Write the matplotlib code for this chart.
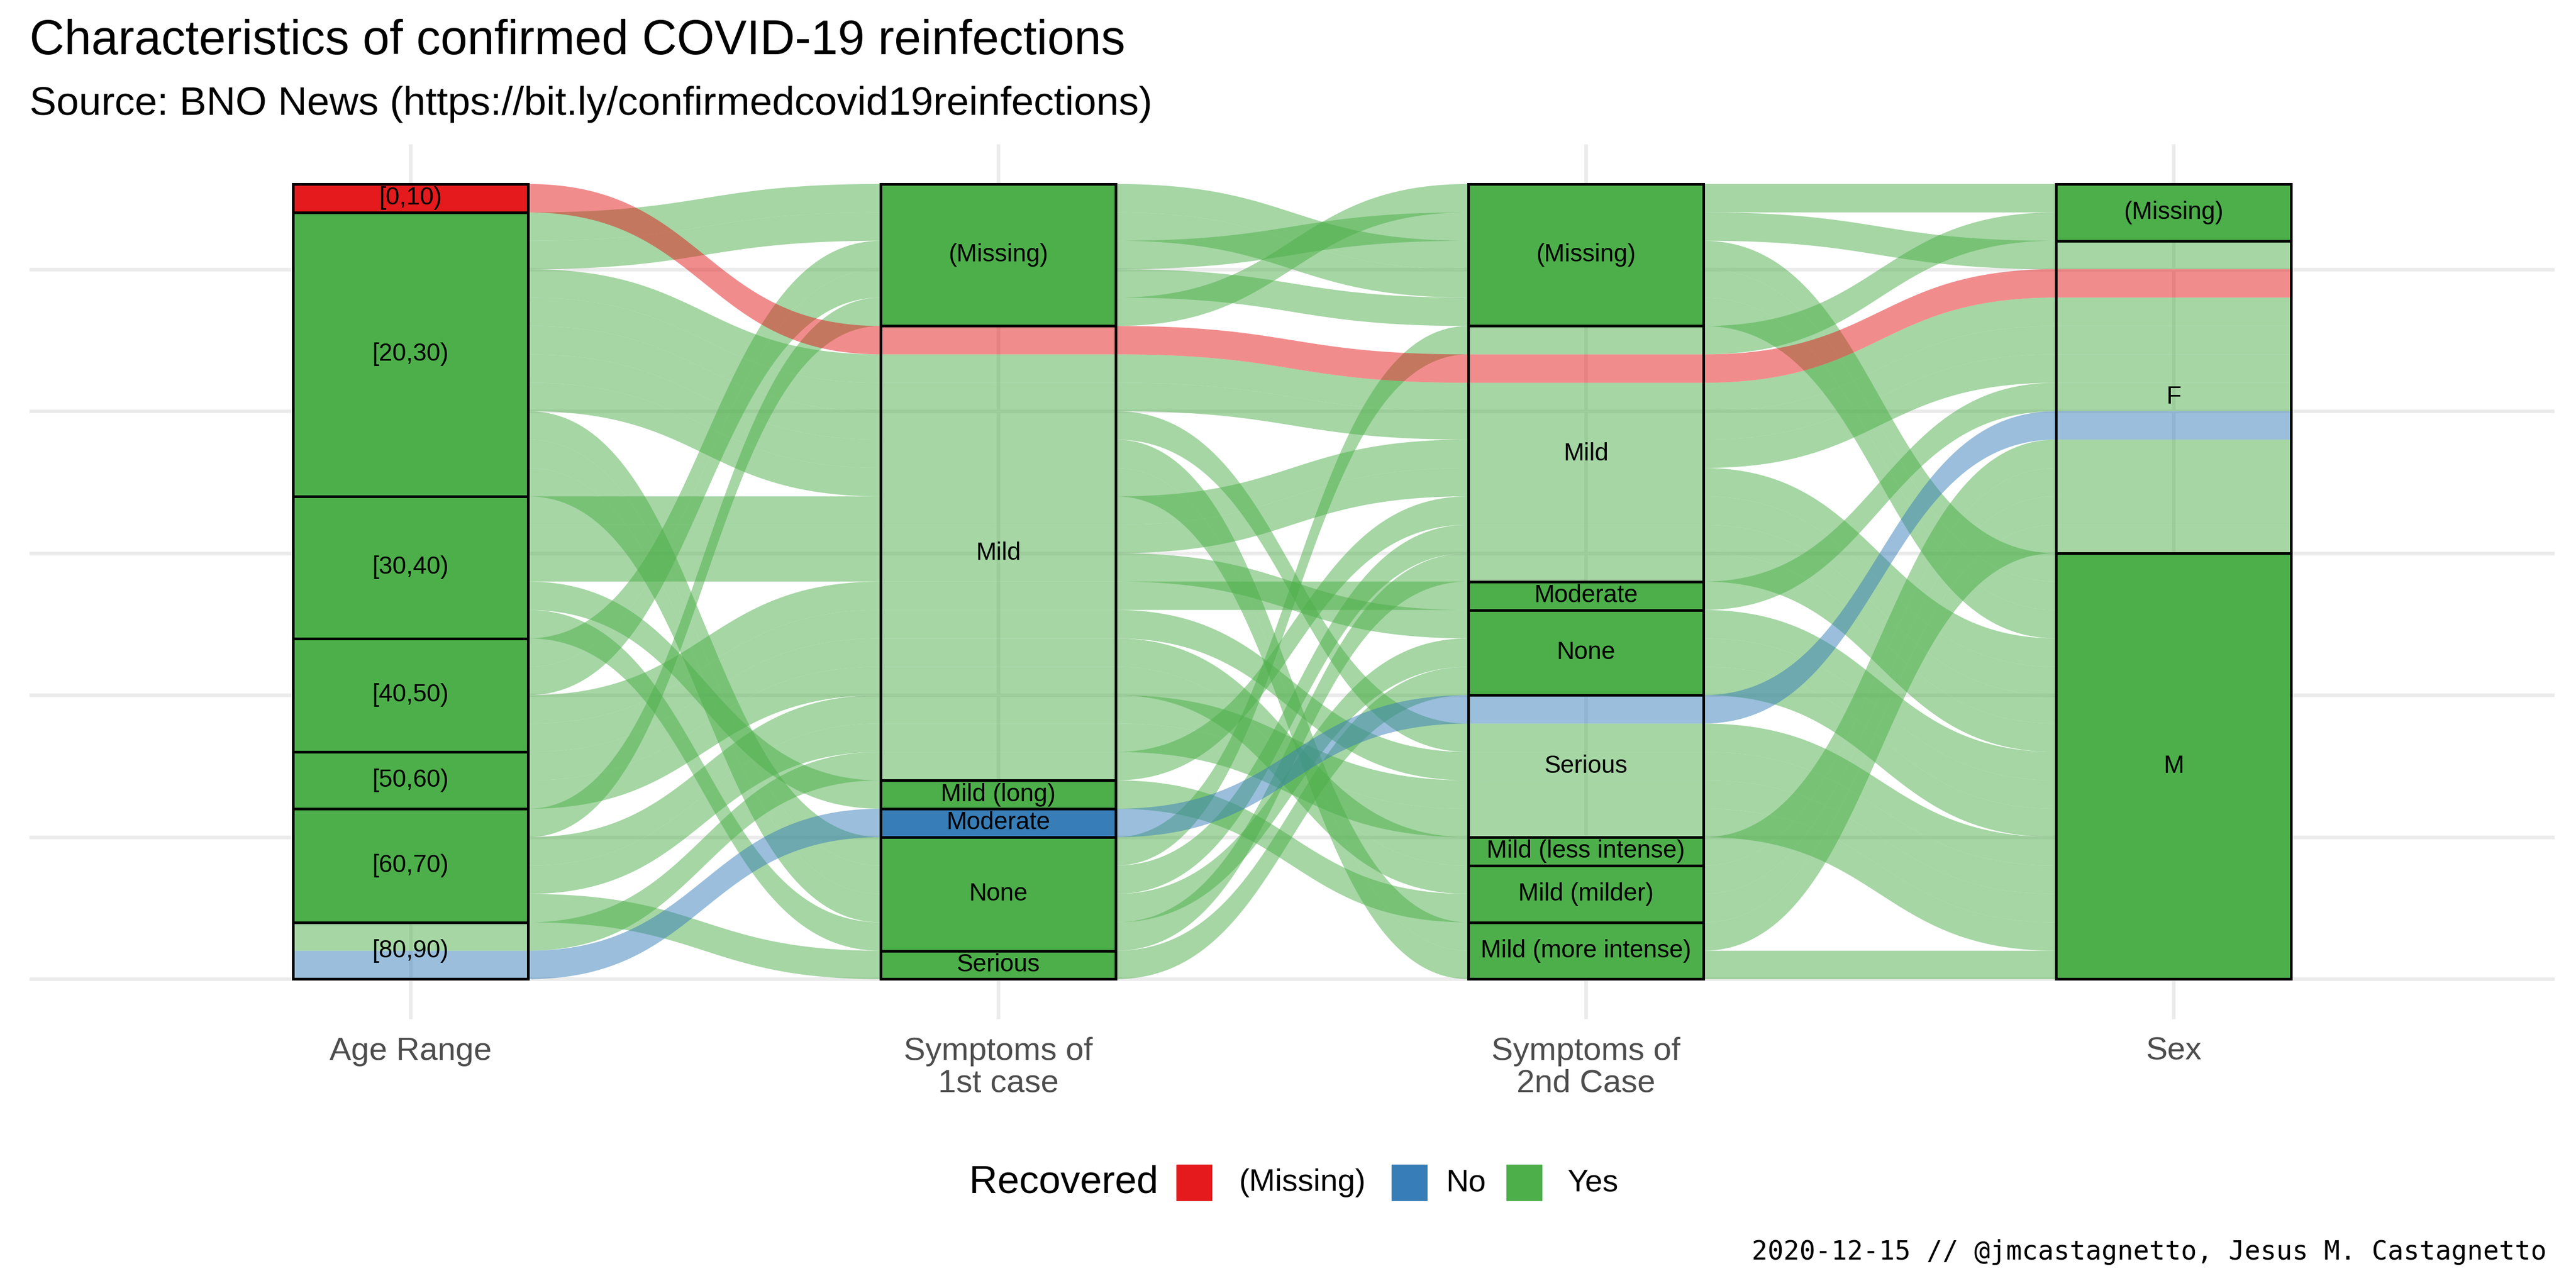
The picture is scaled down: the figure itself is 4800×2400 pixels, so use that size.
import matplotlib
matplotlib.use("Agg")
import matplotlib.pyplot as plt
from matplotlib.patches import Rectangle, Polygon
import numpy as np

# ---------------- data ----------------
axis_titles = ["Age Range", "Symptoms of\n1st case", "Symptoms of\n2nd Case", "Sex"]

age_levels = ["[0,10)", "[20,30)", "[30,40)", "[40,50)", "[50,60)", "[60,70)", "[80,90)"]
s1_levels = ["(Missing)", "Mild", "Mild (long)", "Moderate", "None", "Serious"]
s2_levels = ["(Missing)", "Mild", "Moderate", "None", "Serious",
             "Mild (less intense)", "Mild (milder)", "Mild (more intense)"]
sex_levels = ["(Missing)", "F", "M"]
recovered_levels = ["(Missing)", "No", "Yes"]

# one entry per confirmed reinfection case
age = ["[0,10)",
       "[20,30)", "[20,30)", "[20,30)", "[20,30)", "[20,30)", "[20,30)", "[20,30)", "[20,30)", "[20,30)", "[20,30)",
       "[30,40)", "[30,40)", "[30,40)", "[30,40)", "[30,40)",
       "[40,50)", "[40,50)", "[40,50)", "[40,50)",
       "[50,60)", "[50,60)",
       "[60,70)", "[60,70)", "[60,70)", "[60,70)",
       "[80,90)", "[80,90)"]
symptoms_1st = ["Mild",
                "(Missing)", "(Missing)", "Mild", "Mild", "Mild", "Mild", "Mild", "None", "None", "None",
                "Mild", "Mild", "Mild", "Mild (long)", "None",
                "(Missing)", "(Missing)", "Mild", "Mild",
                "Mild", "Mild",
                "(Missing)", "Mild", "Mild", "Serious",
                "Mild", "Moderate"]
symptoms_2nd = ["Mild",
                "(Missing)", "(Missing)", "Mild", "Mild", "Serious", "Mild (more intense)", "Mild (more intense)",
                "Mild", "Mild", "None",
                "Mild", "Mild", "None", "Mild (milder)", "Mild",
                "(Missing)", "(Missing)", "Moderate", "Serious",
                "Mild (less intense)", "Mild (milder)",
                "(Missing)", "Serious", "Serious", "None",
                "Mild", "Serious"]
sex = ["F",
       "M", "M", "F", "F", "M", "F", "M", "(Missing)", "M", "M",
       "F", "M", "M", "F", "M",
       "F", "M", "F", "M",
       "F", "F",
       "(Missing)", "M", "M", "M",
       "M", "F"]
recovered = ["(Missing)"] + ["Yes"] * 26 + ["No"]

colors = {"(Missing)": "#E41A1C", "No": "#377EB8", "Yes": "#4DAF4A"}

# ---------------- layout helpers ----------------
columns = [age, symptoms_1st, symptoms_2nd, sex]
levels = [age_levels, s1_levels, s2_levels, sex_levels]
n_axes = len(columns)
n = len(age)
idx = [[levels[a].index(v) for v in columns[a]] for a in range(n_axes)]


def lode_zigzag(na, i):
    r1, r2 = i - 1, na - i
    r = min(r1, r2)
    leftward = (i - 1) / (na - 1) <= 0.5
    sgn = 0 if r1 == r2 else (r2 - r1) / abs(r2 - r1)
    s = 1 - 2 * leftward
    out = [i]
    for j in range(1, r + 1):
        out += [i + j * s, i - j * s]
    if r1 != r2:
        start = int(i + sgn * (r + 1))
        end = int((na + 1) / 2 + sgn * (na - 1) / 2)
        step = 1 if end >= start else -1
        out += list(range(start, end + step, step))
    return out


# lode positions: top (data units) for each case on each axis
tops = np.zeros((n_axes, n))
for a in range(n_axes):
    guide = lode_zigzag(n_axes, a + 1)
    order = sorted(range(n), key=lambda k: tuple(idx[g - 1][k] for g in guide) + (k,))
    cum = 0
    for k in order:
        tops[a, k] = n - cum
        cum += 1

xpos = np.arange(1, n_axes + 1)
w = 0.4


def curve(x0, y0, x1, y1, m=80):
    t = np.linspace(0, 1, m)
    xm = (x0 + x1) / 2
    bx = (1 - t) ** 3 * x0 + 3 * (1 - t) ** 2 * t * xm + 3 * (1 - t) * t ** 2 * xm + t ** 3 * x1
    by = (1 - t) ** 3 * y0 + 3 * (1 - t) ** 2 * t * y0 + 3 * (1 - t) * t ** 2 * y1 + t ** 3 * y1
    return bx, by


def edge(k, offset):
    ex, ey = [], []
    for a in range(n_axes):
        xl, xr = xpos[a] - w / 2, xpos[a] + w / 2
        yv = tops[a, k] - offset
        ex += [xl, xr]
        ey += [yv, yv]
        if a < n_axes - 1:
            cx, cy = curve(xr, yv, xpos[a + 1] - w / 2, tops[a + 1, k] - offset)
            ex += list(cx[1:-1])
            ey += list(cy[1:-1])
    return np.array(ex), np.array(ey)


def alluvium_outline(k):
    tx, ty = edge(k, 0)
    bx, by = edge(k, 1)
    return np.column_stack([np.concatenate([tx, bx[::-1]]), np.concatenate([ty, by[::-1]])])


# ---------------- figure ----------------
plt.rcParams["font.family"] = ["Liberation Sans", "DejaVu Sans"]
fig = plt.figure(figsize=(16, 8), dpi=300)
W, H = 1568.0, 784.0
ax = fig.add_axes([18 / W, 1 - 620.2 / H, (1555 - 18) / W, (620.2 - 87.8) / H])
m = 0.6486
ax.set_xlim(1 - m, n_axes + m)
ax.set_ylim(-1.4, 29.4)

grid_col = "#EBEBEB"
for yv in range(0, 26, 5):
    ax.axhline(yv, color=grid_col, lw=1.6, zorder=0)
for xv in xpos:
    ax.axvline(xv, color=grid_col, lw=1.6, zorder=0)

# alluvia (green first, coloured ones on top)
draw_order = sorted(range(n), key=lambda k: (recovered[k] != "Yes", k))
for k in draw_order:
    ax.add_patch(Polygon(alluvium_outline(k), closed=True, facecolor=colors[recovered[k]],
                         alpha=0.5, edgecolor="none", zorder=2))

# strata
for a in range(n_axes):
    for lev_i, lev in enumerate(levels[a]):
        members = [k for k in range(n) if idx[a][k] == lev_i]
        if not members:
            continue
        top = max(tops[a, k] for k in members)
        bot = min(tops[a, k] - 1 for k in members)
        recs = set(recovered[k] for k in members)
        fc = colors[recs.pop()] if len(recs) == 1 else "none"
        ax.add_patch(Rectangle((xpos[a] - w / 2, bot), w, top - bot, facecolor=fc,
                               edgecolor="black", lw=1.2, zorder=3))
        ax.text(xpos[a], (top + bot) / 2, lev, ha="center", va="center",
                fontsize=11, color="black", zorder=4)

ax.set_xticks(xpos)
ax.set_xticklabels(axis_titles, fontsize=14.5, color="#4D4D4D", linespacing=1.1)
ax.tick_params(axis="x", length=0, pad=8)
ax.set_yticks([])
for s in ax.spines.values():
    s.set_visible(False)

# titles
fig.text(18 / W, 1 - 33 / H, "Characteristics of confirmed COVID-19 reinfections",
         fontsize=21.6, ha="left", va="baseline", color="black")
fig.text(18 / W, 1 - 70 / H, "Source: BNO News (https://bit.ly/confirmedcovid19reinfections)",
         fontsize=18, ha="left", va="baseline", color="black")

# legend
ly = 1 - 720 / H
fig.text(590 / W, ly, "Recovered", fontsize=17.5, ha="left", va="center")
key_w, key_h = 22 / W, 22 / H
legend_items = [("(Missing)", 716, 754), ("No", 847, 880), ("Yes", 917, 954)]
for lab, kx, tx in legend_items:
    fig.patches.append(Rectangle((kx / W, ly - key_h / 2), key_w, key_h,
                                 facecolor=colors[lab], edgecolor="none",
                                 transform=fig.transFigure, figure=fig))
    fig.text(tx / W, ly, lab, fontsize=14, ha="left", va="center")

# caption
fig.text(1550 / W, 1 - 762 / H, "2020-12-15 // @jmcastagnetto, Jesus M. Castagnetto",
         fontsize=11.8, ha="right", va="center", family="DejaVu Sans Mono")

fig.savefig("out.png", dpi=300, facecolor="white")
